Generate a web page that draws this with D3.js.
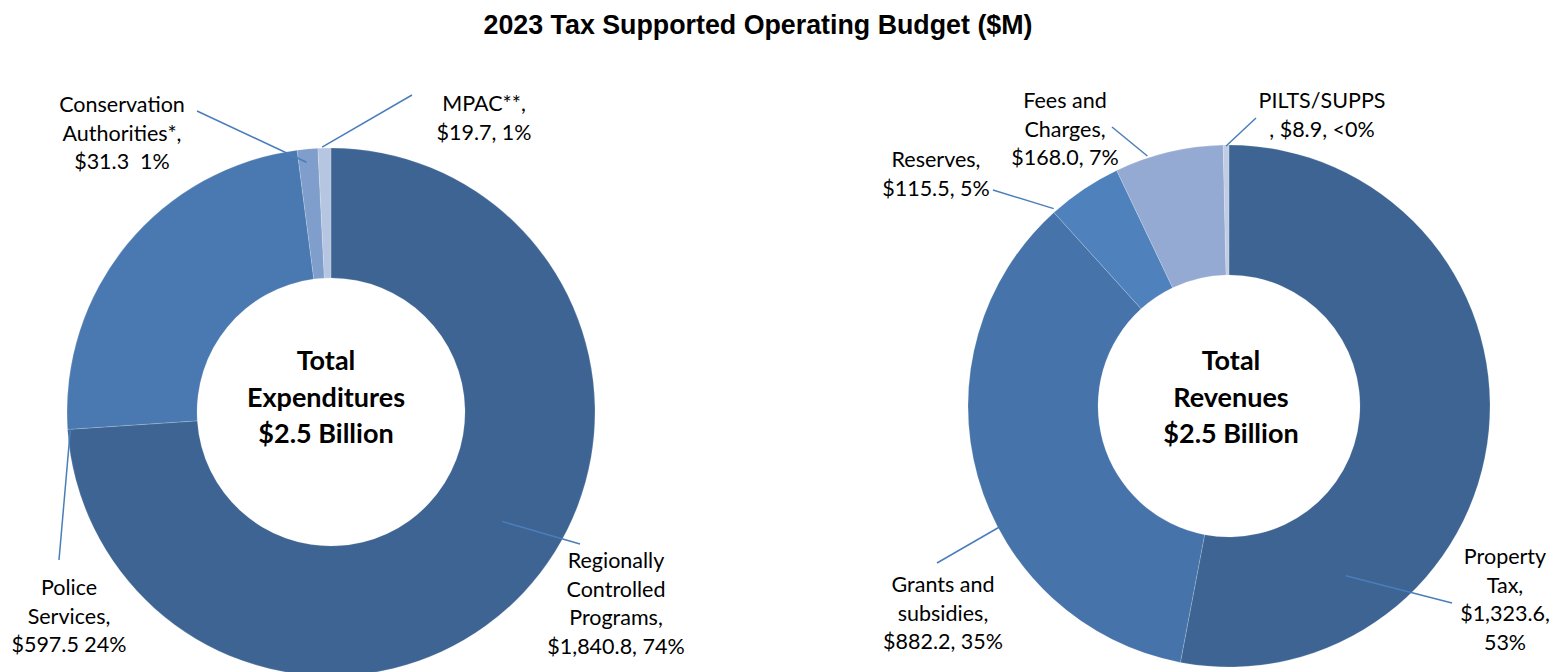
<!DOCTYPE html>
<html>
<head>
<meta charset="utf-8">
<script src="https://cdn.jsdelivr.net/npm/d3@7"></script>
<style>
  html, body { margin: 0; padding: 0; background: #fff; }
  svg { display: block; }
  text { white-space: pre; }
</style>
</head>
<body>
<svg id="chart" width="1559" height="672"></svg>
<script>
// Expenditures ($M)
const expCategories = ["Regionally Controlled Programs", "Police Services", "Conservation Authorities*", "MPAC**"];
const expValues = [1840.8, 597.5, 31.3, 19.7];
const expLabels = [
  ["Regionally", "Controlled", "Programs,", "$1,840.8, 74%"],
  ["Police", "Services,", "$597.5 24%"],
  ["Conservation", "Authorities*,", "$31.3  1%"],
  ["MPAC**,", "$19.7, 1%"]
];
const expColors = ["#3d6492", "#4a79b1", "#7f9ecb", "#b6c6e1"];

// Revenues ($M)
const revCategories = ["Property Tax", "Grants and subsidies", "Reserves", "Fees and Charges", "PILTS/SUPPS"];
const revValues = [1323.6, 882.2, 115.5, 168.0, 8.9];
const revLabels = [
  ["Property", "Tax,", "$1,323.6,", "53%"],
  ["Grants and", "subsidies,", "$882.2, 35%"],
  ["Reserves,", "$115.5, 5%"],
  ["Fees and", "Charges,", "$168.0, 7%"],
  ["PILTS/SUPPS", ", $8.9, <0%"]
];
const revColors = ["#3d6492", "#4674aa", "#4f81bd", "#95aad2", "#c2cde4"];

const svg = d3.select("#chart");

svg.append("text")
  .attr("x", 758).attr("y", 34)
  .attr("text-anchor", "middle")
  .style("font-family", "'Liberation Sans', Arial, sans-serif")
  .style("font-weight", "bold")
  .style("font-size", "26.8px")
  .text("2023 Tax Supported Operating Budget ($M)");

const labelFont = "Lato, 'Open Sans', sans-serif";
const deg = Math.PI / 180;

function donut(cfg) {
  const g = svg.append("g").attr("transform", `translate(${cfg.cx},${cfg.cy})`);
  const pie = d3.pie().sort(null).value(d => d)(cfg.values);
  const arc = d3.arc().innerRadius(cfg.r0).outerRadius(cfg.r1);

  g.selectAll("path.slice").data(pie).join("path")
    .attr("class", "slice")
    .attr("d", arc)
    .attr("fill", (d, i) => cfg.colors[i])
    .attr("stroke", "rgba(255,255,255,0.25)")
    .attr("stroke-width", 0.7);

  // leader lines: from a point on the slice out to its label
  const leader = d3.line();
  cfg.leaders.forEach((ld, i) => {
    const a = (pie[i].startAngle + pie[i].endAngle) / 2 + (ld.shift || 0) * deg;
    const p0 = [cfg.cx + Math.sin(a) * ld.rIn, cfg.cy - Math.cos(a) * ld.rIn];
    svg.append("path")
      .attr("d", leader([p0, ld.end]))
      .attr("fill", "none")
      .attr("stroke", "#4a7ebb")
      .attr("stroke-width", 1.5);
  });

  // data labels
  cfg.labels.forEach((lines, i) => {
    const pos = cfg.labelPos[i];
    const t = svg.append("text")
      .attr("text-anchor", "middle")
      .style("font-family", labelFont)
      .style("font-size", "21.5px")
      .attr("fill", "#000");
    lines.forEach((s, k) => {
      t.append("tspan").attr("x", pos[0]).attr("y", pos[1] + k * 28.7).text(s);
    });
  });

  // centre title
  const ct = svg.append("text")
    .attr("text-anchor", "middle")
    .style("font-family", labelFont)
    .style("font-weight", "bold")
    .style("font-size", "27px");
  cfg.center.forEach((s, k) => {
    ct.append("tspan").attr("x", cfg.centerX).attr("y", cfg.centerY + k * 36.5).text(s);
  });
}

donut({
  cx: 331, cy: 412, r0: 134, r1: 264,
  values: expValues, colors: expColors, labels: expLabels,
  labelPos: [[616, 568], [69, 595], [122, 112], [484, 111]],
  leaders: [
    { rIn: 203, shift: -10.5, end: [580, 544] },
    { rIn: 261, shift: -42.9, end: [59, 560] },
    { rIn: 251, shift: -0.5, end: [197, 111] },
    { rIn: 265, shift: -0.5, end: [412, 95] }
  ],
  centerX: 326, centerY: 370,
  center: ["Total", "Expenditures", "$2.5 Billion"]
});

donut({
  cx: 1229, cy: 406, r0: 131, r1: 261,
  values: revValues, colors: revColors, labels: revLabels,
  labelPos: [[1505, 564], [943, 592], [936, 167], [1065, 108], [1322, 108]],
  leaders: [
    { rIn: 206, shift: 50.1, end: [1452, 603] },
    { rIn: 260, shift: -12.1, end: [937, 563] },
    { rIn: 264, shift: -7.8, end: [993, 190] },
    { rIn: 263, shift: -4.7, end: [1112, 127] },
    { rIn: 260, shift: 0.0, end: [1256, 118] }
  ],
  centerX: 1231, centerY: 370,
  center: ["Total", "Revenues", "$2.5 Billion"]
});
</script>
</body>
</html>
